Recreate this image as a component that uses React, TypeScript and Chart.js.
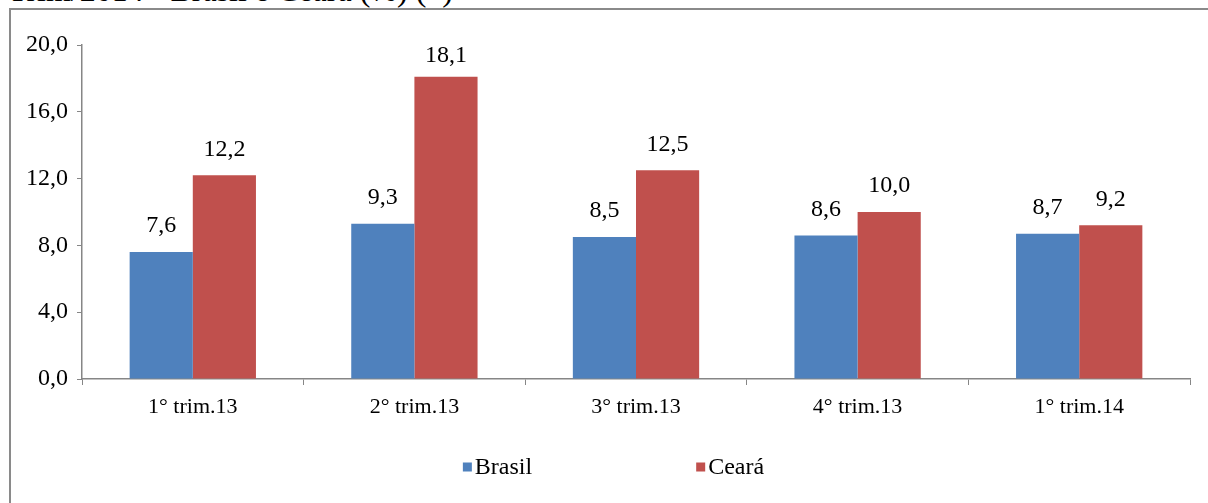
import React, { useEffect, useRef } from "react";
import { Chart, registerables } from "chart.js";

Chart.register(...registerables);

const categories = ["1° trim.13", "2° trim.13", "3° trim.13", "4° trim.13", "1° trim.14"];
const brasil = [7.6, 9.3, 8.5, 8.6, 8.7];
const ceara = [12.2, 18.1, 12.5, 10.0, 9.2];
const seriesNames = ["Brasil", "Ceará"];
const seriesColors = ["#4F81BD", "#C0504D"];
const titleText = "Trim/2014 - Brasil e Ceará (%) (*)";

const FONT = "'Liberation Serif', 'Times New Roman', serif";
const fmt = (v: number) => v.toFixed(1).replace(".", ",");

const valueLabels = {
  id: "valueLabels",
  afterDatasetsDraw(chart: any) {
    const ctx = chart.ctx;
    ctx.save();
    ctx.font = `24px ${FONT}`;
    ctx.fillStyle = "#000";
    ctx.textAlign = "center";
    ctx.textBaseline = "middle";
    chart.data.datasets.forEach((ds: any, i: number) => {
      const meta = chart.getDatasetMeta(i);
      meta.data.forEach((bar: any, j: number) => {
        const y = Math.max(bar.y - 26, chart.chartArea.top + 11);
        ctx.fillText(fmt(ds.data[j]), bar.x, y);
      });
    });
    ctx.restore();
  },
};

const customLegend = {
  id: "customLegend",
  afterDraw(chart: any) {
    const ctx = chart.ctx;
    ctx.save();
    ctx.font = `24px ${FONT}`;
    ctx.textBaseline = "middle";
    ctx.textAlign = "left";
    const y = chart.height - 36;
    const box = 9;
    const gap = 3;
    const spacing = 164;
    const widths = seriesNames.map((n) => box + gap + ctx.measureText(n).width);
    const total = widths.reduce((a, b) => a + b, 0) + spacing * (seriesNames.length - 1);
    let x = chart.width / 2 - total / 2 + 4;
    seriesNames.forEach((n, i) => {
      ctx.fillStyle = seriesColors[i];
      ctx.fillRect(x, y - box / 2, box, box);
      ctx.fillStyle = "#000";
      ctx.fillText(n, x + box + gap, y + 1);
      x += widths[i] + spacing;
    });
    ctx.restore();
  },
};

export default function App() {
  const ref = useRef<HTMLCanvasElement>(null);
  useEffect(() => {
    if (!ref.current) return;
    const chart = new Chart(ref.current, {
      type: "bar",
      data: {
        labels: categories,
        datasets: [
          { label: seriesNames[0], data: brasil, backgroundColor: seriesColors[0], categoryPercentage: 0.57, barPercentage: 1 },
          { label: seriesNames[1], data: ceara, backgroundColor: seriesColors[1], categoryPercentage: 0.57, barPercentage: 1 },
        ],
      },
      options: {
        responsive: false,
        animation: false,
        devicePixelRatio: 1,
        layout: { padding: { top: 35, right: 18, left: 0, bottom: 0 } },
        plugins: { legend: { display: false }, tooltip: { enabled: false } },
        scales: {
          x: {
            afterFit: (s: any) => { s.height = 124; },
            grid: { offset: true, drawOnChartArea: false, tickLength: 6, color: "#868686", lineWidth: 1 },
            border: { color: "#868686", width: 1.5 },
            ticks: { color: "#000", font: { family: FONT, size: 22 }, padding: 9, maxRotation: 0 },
          },
          y: {
            min: 0,
            max: 20,
            afterFit: (s: any) => { s.width = 71; },
            grid: { drawOnChartArea: false, tickLength: 5, color: "#868686" },
            border: { color: "#868686", width: 1.5 },
            ticks: { stepSize: 4, color: "#000", font: { family: FONT, size: 24 }, padding: 9, callback: (v: any) => fmt(Number(v)) },
          },
        },
      },
      plugins: [valueLabels, customLegend],
    });
    return () => chart.destroy();
  }, []);

  return (
    <div style={{ position: "fixed", left: 0, top: 0, width: 1208, height: 503, overflow: "hidden", background: "#fff" }}>
      <div style={{ position: "absolute", left: 8, top: -28.5, fontFamily: FONT, fontSize: 32, lineHeight: "36px", whiteSpace: "nowrap", color: "#000" }}>
        {titleText}
      </div>
      <div style={{ position: "absolute", left: 9, top: 8, width: 1300, height: 700, borderLeft: "2px solid #8a8a8a", borderTop: "2px solid #8a8a8a", boxSizing: "border-box" }} />
      <canvas ref={ref} width={1197} height={493} style={{ position: "absolute", left: 11, top: 10, width: 1197, height: 493 }} />
    </div>
  );
}
